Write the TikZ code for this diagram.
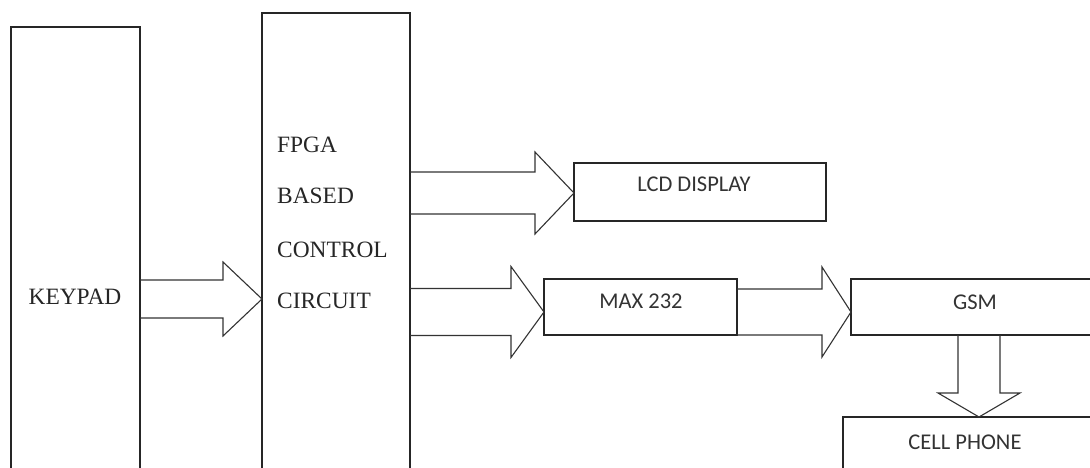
\documentclass[tikz,border=0pt]{standalone}
\usepackage{fontspec}
\setmainfont{Liberation Serif}
\newfontfamily\calib{Carlito}
\usetikzlibrary{calc}
\newcommand\blkH[6]{%
  \draw[conn] let \p1=($(#1)+(0,#6)$), \p2=(#2) in
    (\x1,\y1+#3pt) -- (\x2-#5pt,\y1+#3pt) -- (\x2-#5pt,\y1+#4pt) -- (\x2,\y1)
    -- (\x2-#5pt,\y1-#4pt) -- (\x2-#5pt,\y1-#3pt) -- (\x1,\y1-#3pt);}
\newcommand\blkV[5]{%
  \draw[conn] let \p1=(#1), \p2=(#2) in
    (\x1-#3pt,\y1) -- (\x1-#3pt,\y2+#5pt) -- (\x1-#4pt,\y2+#5pt) -- (\x1,\y2)
    -- (\x1+#4pt,\y2+#5pt) -- (\x1+#3pt,\y2+#5pt) -- (\x1+#3pt,\y1);}
\begin{document}
\begin{tikzpicture}[x=1pt,y=-1pt,
  box/.style={draw=black!85,line width=1.3pt,inner sep=0pt,outer sep=0pt,anchor=north west},
  conn/.style={draw=black!80,line width=1.1pt,line join=miter},
  serif/.style={font=\fontsize{23.4}{26}\selectfont,inner sep=0pt,text=black!85},
  sans/.style={font=\calib\fontsize{22.5}{26}\selectfont,inner sep=0pt,text=black!80,anchor=base}]
\useasboundingbox (0,0) rectangle (1090,468);
\clip (0,0) rectangle (1090,468);
\fill[white] (0,0) rectangle (1090,468);
\node[box,minimum width=129pt,minimum height=544pt] (kp) at (11,27) {};
\node[box,minimum width=148pt,minimum height=572pt] (fpga) at (262,13) {};
\node[box,minimum width=252pt,minimum height=58pt] (lcd) at (574,163) {};
\node[box,minimum width=193pt,minimum height=56pt] (max) at (544,279) {};
\node[box,minimum width=299pt,minimum height=56pt] (gsm) at (851,279) {};
\node[box,minimum width=307pt,minimum height=100pt] (cell) at (843,417) {};
% labels
\node[serif,anchor=base] (kpt) at (75,304) {KEYPAD};
\node[serif,anchor=base west] (f1) at (277,153) {FPGA};
\node[serif,anchor=base west] (f2) at (277,204) {BASED};
\node[serif,anchor=base west] (f3) at (277,257) {CONTROL};
\node[serif,anchor=base west] (f4) at (277,308) {CIRCUIT};
\node[sans] (lcdt) at (694,192) {LCD DISPLAY};
\node[sans] (maxt) at (641,308) {MAX 232};
\node[sans] (gsmt) at (975,309) {GSM};
\node[sans] (cellt) at (965,449) {CELL PHONE};
% block arrows
\blkH{kp.east}{fpga.west}{19}{37}{39}{0}
\blkH{fpga.east |- lcd.west}{lcd.west}{21}{41}{39}{1}
\blkH{fpga.east |- max.west}{max.west}{23.5}{45.5}{33}{5}
\blkH{max.east}{gsm.west}{23}{45}{29}{5}
\coordinate (gs) at ($(gsm.south west)+(128,0)$);
\coordinate (ct) at (gs |- cell.north);
\blkV{gs}{ct}{21}{41}{24}
\end{tikzpicture}
\end{document}
